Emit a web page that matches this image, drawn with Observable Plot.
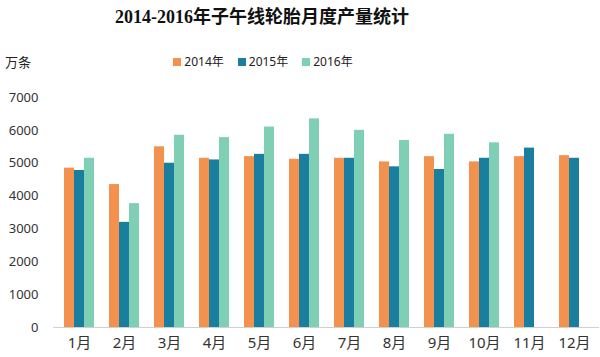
<!DOCTYPE html>
<html>
<head>
<meta charset="utf-8">
<script src="https://cdn.jsdelivr.net/npm/d3@7"></script>
<script src="https://cdn.jsdelivr.net/npm/@observablehq/plot@0.6"></script>
<style>
  html, body { margin: 0; padding: 0; background: #fff; }
  #wrap { position: relative; width: 600px; height: 357px; overflow: hidden; font-family: "Noto Sans", "Noto Sans CJK SC", sans-serif; }
  #title { position: absolute; left: 0; top: 4px; width: 524px; text-align: center; font: bold 18px/26px "Liberation Serif", "Noto Sans CJK SC", serif; color: #111; }
  #unit { position: absolute; left: 5px; top: 53px; font-size: 13px; line-height: 18px; color: #222; }
  #legend { position: absolute; left: 0; top: 53px; width: 526px; text-align: center; font-size: 12px; line-height: 18px; color: #222; white-space: nowrap; }
  #legend span.item { margin: 0 7px; }
  #legend span.sw { display: inline-block; width: 8px; height: 8px; margin-right: 3px; vertical-align: 0px; }
  #chart { position: absolute; left: 0; top: 80px; }
  #chart [aria-label^="x-axis"] text { font-size: 15px; }
</style>
</head>
<body>
<div id="wrap">
  <div id="title">2014-2016年子午线轮胎月度产量统计</div>
  <div id="unit">万条</div>
  <div id="legend"></div>
  <div id="chart"></div>
</div>
<script>
const months = ["1月","2月","3月","4月","5月","6月","7月","8月","9月","10月","11月","12月"];
const years = ["2014年","2015年","2016年"];
const colors = ["#F3924F","#1A7F9F","#7ECFB4"];
const v2014 = [4850, 4350, 5500, 5150, 5200, 5120, 5150, 5040, 5200, 5040, 5200, 5230];
const v2015 = [4780, 3200, 5000, 5100, 5270, 5270, 5150, 4890, 4810, 5150, 5460, 5150];
const v2016 = [5150, 3770, 5850, 5780, 6100, 6350, 6000, 5690, 5880, 5620, null, null];
const yTicks = [0, 1000, 2000, 3000, 4000, 5000, 6000, 7000];

const series = [v2014, v2015, v2016];
const data = [];
series.forEach((vals, i) => vals.forEach((v, j) => {
  if (v != null) data.push({month: months[j], year: years[i], value: v});
}));

// legend
const legend = document.getElementById("legend");
years.forEach((y, i) => {
  const item = document.createElement("span");
  item.className = "item";
  const sw = document.createElement("span");
  sw.className = "sw";
  sw.style.background = colors[i];
  item.appendChild(sw);
  item.appendChild(document.createTextNode(y));
  legend.appendChild(item);
});

const offsets = [-10, 0, 10];
const chart = Plot.plot({
  width: 600,
  height: 277,
  marginTop: 17,
  marginBottom: 30,
  marginLeft: 53,
  marginRight: 1,
  style: {fontFamily: "'Noto Sans', 'Noto Sans CJK SC', sans-serif", fontSize: "13px", color: "#333", background: "transparent"},
  x: {domain: months, paddingInner: 0.78, paddingOuter: 0.396, tickSize: 0, tickPadding: 10, label: null},
  y: {domain: [0, 7000], ticks: yTicks, tickSize: 0, tickPadding: 15, label: null, tickFormat: d => String(d)},
  color: {domain: years, range: colors},
  marks: [
    ...years.map((yr, i) => Plot.barY(data.filter(d => d.year === yr), {
      x: "month", y: "value", fill: "year", dx: offsets[i], insetLeft: 0, insetRight: 0
    })),
    Plot.ruleY([0], {stroke: "#d0d0d0", strokeWidth: 1})
  ]
});
document.getElementById("chart").appendChild(chart);
</script>
</body>
</html>
